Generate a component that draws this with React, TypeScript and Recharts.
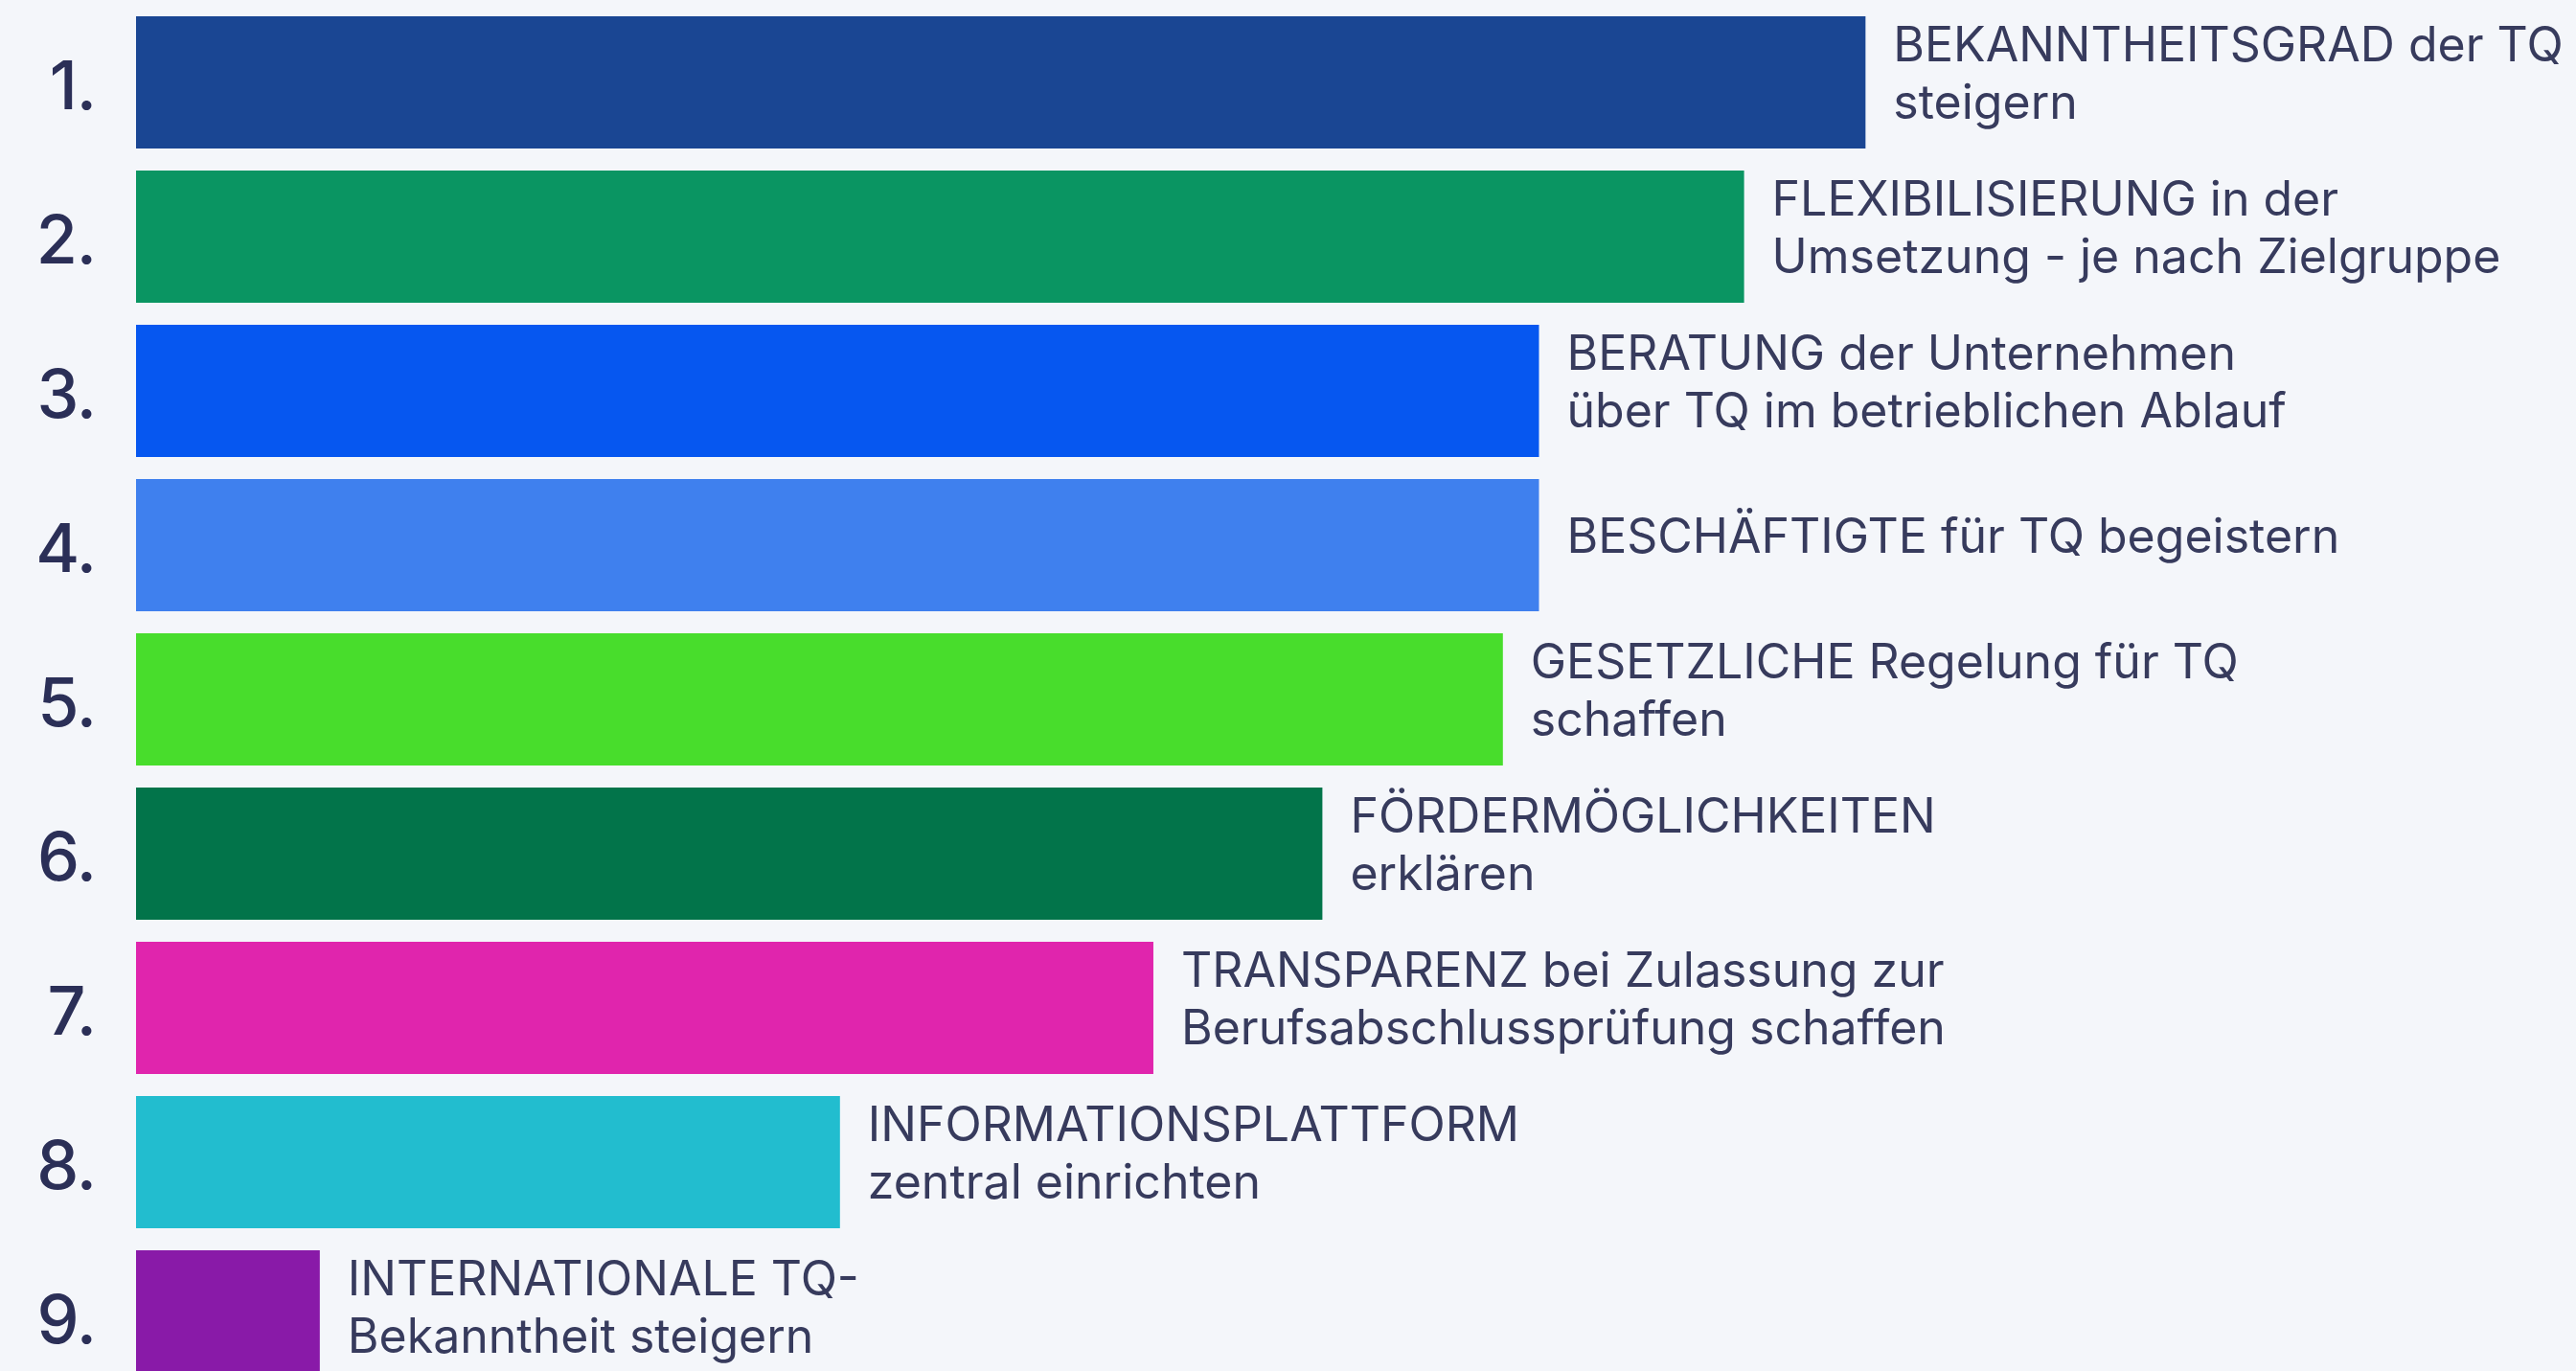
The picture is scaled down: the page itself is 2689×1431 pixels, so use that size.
import { BarChart, Bar, XAxis, YAxis, Cell, LabelList } from 'recharts';

const ranks = ['1.', '2.', '3.', '4.', '5.', '6.', '7.', '8.', '9.'];
const values = [105.4, 98.0, 85.5, 85.5, 83.3, 72.3, 62.0, 42.9, 11.2];
const labels = [
  'BEKANNTHEITSGRAD der TQ\nsteigern',
  'FLEXIBILISIERUNG in der\nUmsetzung - je nach Zielgruppe',
  'BERATUNG der Unternehmen\nüber TQ im betrieblichen Ablauf',
  'BESCHÄFTIGTE für TQ begeistern',
  'GESETZLICHE Regelung für TQ\nschaffen',
  'FÖRDERMÖGLICHKEITEN\nerklären',
  'TRANSPARENZ bei Zulassung zur\nBerufsabschlussprüfung schaffen',
  'INFORMATIONSPLATTFORM\nzentral einrichten',
  'INTERNATIONALE TQ-\nBekanntheit steigern',
];
const colors = ['#1a4693', '#0a9562', '#0657f0', '#3f80ee', '#48dd2c', '#02744a', '#e025ad', '#22bdcf', '#891aa8'];

const data = ranks.map((rank, i) => ({ rank, value: values[i], label: labels[i] }));

const TEXT = '#373b5d';

function RankTick(props: any) {
  const { x, y, payload } = props;
  return (
    <text x={x} y={y + 3} textAnchor="end" dominantBaseline="central" fill="#2b2f57"
      fontSize={70} fontWeight={500} fontFamily="Inter, sans-serif" letterSpacing={-1}>
      {payload.value}
    </text>
  );
}

function BarLabel(props: any) {
  const { x, y, width, height, value } = props;
  const lines = String(value).split('\n');
  const lh = 60;
  const cy = y + height / 2 - 10;
  const first = cy - ((lines.length - 1) * lh) / 2;
  const tx = x + width + 29;
  return (
    <text fill={TEXT} fontSize={50} fontFamily="Inter, sans-serif">
      {lines.map((l, i) => (
        <tspan key={i} x={tx} y={first + i * lh} dominantBaseline="central">{l}</tspan>
      ))}
    </text>
  );
}

export default function App() {
  return (
    <div style={{ position: 'fixed', left: 0, top: 0, width: 2689, height: 1431, overflow: 'hidden', background: '#f4f6fa' }}>
      <BarChart width={2689} height={1454} data={data} layout="vertical"
        margin={{ top: 5, right: 149, bottom: 0, left: 0 }}>
        <XAxis type="number" domain={[0, 140]} hide />
        <YAxis type="category" dataKey="rank" width={142} axisLine={false} tickLine={false}
          tickMargin={36} tick={<RankTick />} />
        <Bar dataKey="value" barSize={138} isAnimationActive={false}>
          {data.map((d, i) => (
            <Cell key={d.rank} fill={colors[i]} />
          ))}
          <LabelList dataKey="label" content={<BarLabel />} />
        </Bar>
      </BarChart>
    </div>
  );
}
